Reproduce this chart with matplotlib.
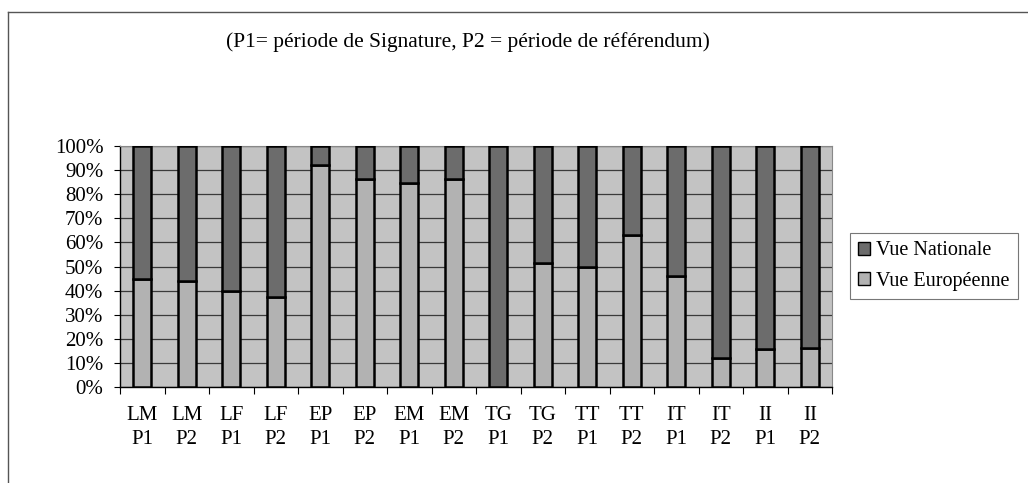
import numpy as np
import matplotlib as mpl
mpl.use("Agg")
import matplotlib.pyplot as plt
import matplotlib.patches as mpatches
from matplotlib.ticker import PercentFormatter

plt.rcParams["font.family"] = ["Liberation Serif", "DejaVu Serif"]

# Data
groups = ["LM", "LM", "LF", "LF", "EP", "EP", "EM", "EM",
          "TG", "TG", "TT", "TT", "IT", "IT", "II", "II"]
periods = ["P1", "P2"] * 8
vue_europeenne = [44.7, 44.0, 39.8, 37.3, 92.3, 86.3, 84.6, 86.3,
                  0.0, 51.5, 49.6, 63.0, 46.0, 12.2, 15.8, 16.1]
vue_nationale = [100 - v for v in vue_europeenne]

col_bg = "#c3c3c3"
col_eur = "#b2b2b2"
col_nat = "#6c6c6c"

fig = plt.figure(figsize=(10.28, 4.83), dpi=100)
ax = fig.add_axes([120/1028, 1-387/483, 712/1028, 241/483])

x = np.arange(len(groups))
eur = np.array(vue_europeenne) / 100
nat = np.array(vue_nationale) / 100
ax.bar(x, eur, width=0.41, color=col_eur, edgecolor="black", linewidth=1.8, zorder=3)
ax.bar(x, nat, width=0.41, bottom=eur, color=col_nat, edgecolor="black", linewidth=1.8, zorder=3)

ax.set_facecolor(col_bg)
ax.set_xlim(-0.5, len(groups) - 0.5)
ax.set_ylim(0, 1)
ax.set_yticks(np.arange(0, 1.01, 0.1))
ax.yaxis.set_major_formatter(PercentFormatter(1.0, decimals=0))
ax.grid(axis="y", color="#3a3a3a", linewidth=0.9, zorder=1)

# category labels, ticks between categories
ax.set_xticks(x)
ax.set_xticklabels([f"{g}\n{p}" for g, p in zip(groups, periods)], fontsize=15, linespacing=1.3)
ax.tick_params(axis="x", length=0, pad=14)
ax.set_xticks(np.arange(-0.5, len(groups)), minor=True)
ax.tick_params(axis="x", which="minor", length=5, width=0.8, direction="out")
ax.tick_params(axis="y", labelsize=15, length=4, width=0.8, pad=8)

for s in ["top", "right"]:
    ax.spines[s].set_color("#888888")
    ax.spines[s].set_linewidth(0.8)
ax.spines["left"].set_linewidth(1.0)
ax.spines["bottom"].set_linewidth(1.0)

fig.text(468/1028, 1-42/483, "(P1= période de Signature, P2 = période de référendum)",
         ha="center", va="center", fontsize=15.5)

handles = [mpatches.Patch(facecolor=col_nat, edgecolor="black", label="Vue Nationale"),
           mpatches.Patch(facecolor=col_eur, edgecolor="black", label="Vue Européenne")]
leg = fig.legend(handles=handles, loc="center left", bbox_to_anchor=(850/1028, 1-266/483),
                 fontsize=14.5, frameon=True, fancybox=False, edgecolor="#555555",
                 handlelength=0.6, handleheight=0.6, handletextpad=0.3,
                 labelspacing=0.55, borderpad=0.4, borderaxespad=0)
leg.get_frame().set_linewidth(0.8)

# outer chart frame (top and left edges visible)
fig.add_artist(plt.Line2D([8/1028, 1.0], [1-12/483, 1-12/483], color="#555555", lw=1.0))
fig.add_artist(plt.Line2D([8/1028, 8/1028], [0, 1-12/483], color="#555555", lw=1.0))

fig.savefig("out.png", dpi=100)
